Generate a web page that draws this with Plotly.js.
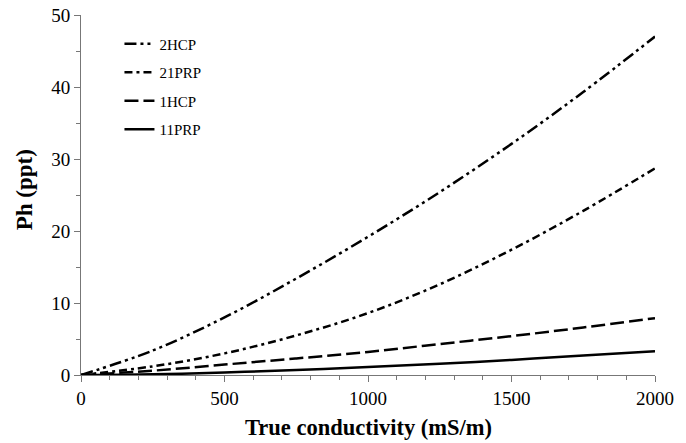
<!DOCTYPE html>
<html>
<head>
<meta charset="utf-8">
<script src="https://cdn.plot.ly/plotly-3.0.1.min.js"></script>
<style>html,body{margin:0;padding:0;background:#fff;}#chart{width:686px;height:443px;}</style>
</head>
<body>
<div id="chart"></div>
<script>
const conductivity = [0, 250, 500, 750, 1000, 1250, 1500, 1750, 2000];
const ph2HCP  = [0, 3.4, 8.0, 13.4, 19.2, 25.4, 32.1, 39.3, 47.0];
const ph21PRP = [0, 1.2, 3.0, 5.5, 8.6, 12.6, 17.4, 22.8, 28.7];
const ph1HCP  = [0, 0.6, 1.45, 2.3, 3.2, 4.3, 5.4, 6.6, 7.9];
const ph11PRP = [0, 0.1, 0.35, 0.7, 1.1, 1.55, 2.1, 2.7, 3.3];
const seriesNames = ['2HCP', '21PRP', '1HCP', '11PRP'];
const xTitle = 'True conductivity (mS/m)';
const yTitle = 'Ph (ppt)';

const series = [ph2HCP, ph21PRP, ph1HCP, ph11PRP];
const dashes = ['12px,4px,3px,4px,3px,4px', '8px,4px,3px,4px', '14px,5px', 'solid'];

const traces = series.map((ys, i) => ({
  x: conductivity, y: ys, name: seriesNames[i], mode: 'lines', type: 'scatter',
  legendgroup: 'g' + i,
  line: {color: '#000', width: 2.5, dash: dashes[i], shape: 'spline', smoothing: 1}
}));

const layout = {
  width: 686, height: 443,
  margin: {l: 81, r: 31, t: 15, b: 68},
  paper_bgcolor: '#fff', plot_bgcolor: '#fff',
  font: {family: '"Liberation Serif", "Times New Roman", serif', color: '#000'},
  showlegend: true,
  legend: {x: 0.067, y: 0.965, xanchor: 'left', yanchor: 'top', bgcolor: 'rgba(0,0,0,0)',
           font: {size: 15}, traceorder: 'grouped', tracegroupgap: 6},
  xaxis: {
    range: [0, 2000], dtick: 500, showgrid: false, zeroline: false,
    showline: true, linecolor: '#777', linewidth: 1,
    ticks: 'outside', ticklen: 6, tickcolor: '#777',
    minor: {dtick: 100, ticks: 'outside', ticklen: 4, tickcolor: '#777'},
    tickfont: {size: 19}
  },
  yaxis: {
    range: [0, 50], dtick: 10, showgrid: false, zeroline: false,
    showline: true, linecolor: '#777', linewidth: 1,
    ticks: 'outside', ticklen: 6, tickcolor: '#777',
    minor: {dtick: 5, ticks: 'outside', ticklen: 4, tickcolor: '#777'},
    tickfont: {size: 19}
  },
  annotations: [
    {text: '<b>' + xTitle + '</b>', xref: 'paper', yref: 'paper', x: 0.5, y: -0.105,
     xanchor: 'center', yanchor: 'top', showarrow: false, font: {size: 22.5}},
    {text: '<b>' + yTitle + '</b>', xref: 'paper', yref: 'paper', x: -0.097, y: 0.514,
     xanchor: 'center', yanchor: 'middle', showarrow: false, textangle: -90, font: {size: 23}}
  ]
};

Plotly.newPlot('chart', traces, layout, {displayModeBar: false, staticPlot: true});
</script>
</body>
</html>
